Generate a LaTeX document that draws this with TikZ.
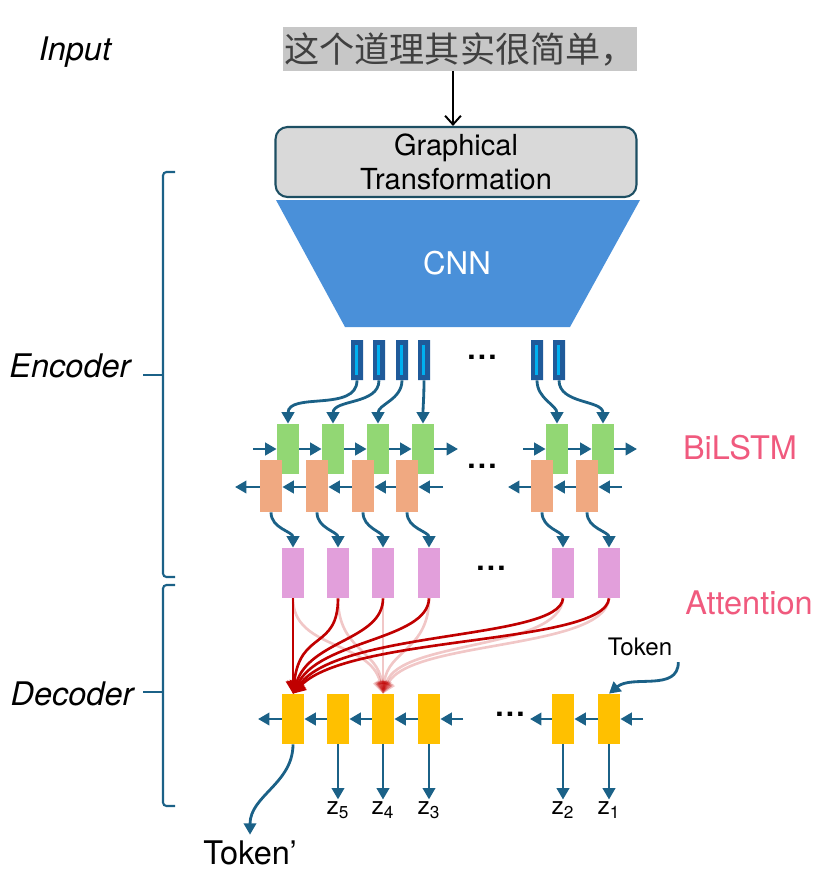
\documentclass[tikz,border=0pt]{standalone}
\usepackage{fontspec}
\setmainfont{TeX Gyre Heros}
\newfontfamily\cjk{Noto Sans CJK SC}
\usetikzlibrary{arrows.meta, shapes.misc, positioning, calc}
\definecolor{arrowteal}{HTML}{1B6187}
\definecolor{cnnblue}{HTML}{4A90D9}
\definecolor{featdark}{HTML}{1F5A9A}
\definecolor{featcyan}{HTML}{00B0F0}
\definecolor{fwdgreen}{HTML}{92D774}
\definecolor{bwdorange}{HTML}{F0A981}
\definecolor{attpink}{HTML}{E29FDB}
\definecolor{decyellow}{HTML}{FFC000}
\definecolor{labelpink}{HTML}{F05A7E}
\definecolor{attred}{HTML}{C00000}
\definecolor{gtgrey}{HTML}{D9D9D9}
\definecolor{gtborder}{HTML}{1D4F63}
\newcommand{\hdots}{.\hspace{1.3pt}.\hspace{1.3pt}.}
\tikzstyle{inputbox} = [fill=black!22, text=black!75, inner xsep=1pt, inner ysep=3pt, font=\fontsize{20}{22}\selectfont]
\tikzstyle{gtbox} = [draw=gtborder, line width=1.2pt, fill=gtgrey, rounded corners=2.4mm, minimum width=7.22cm, minimum height=1.4cm, align=center, font=\fontsize{16.5}{19}\selectfont]
\tikzstyle{featbar} = [chamfered rectangle, chamfered rectangle corners={north west,south east}, chamfered rectangle xsep=1.4pt, chamfered rectangle ysep=2.5pt, fill=featdark, minimum width=2.4mm, minimum height=8mm, inner sep=0, path picture={\fill[featcyan] ([xshift=2pt,yshift=-3pt]path picture bounding box.north west) rectangle ([xshift=-2.8pt,yshift=3pt]path picture bounding box.south east);}]
\tikzstyle{fwdbox} = [fill=fwdgreen, minimum width=4.4mm, minimum height=10mm, inner sep=0]
\tikzstyle{bwdbox} = [fill=bwdorange, minimum width=4.4mm, minimum height=10.4mm, inner sep=0]
\tikzstyle{attbox} = [fill=attpink, minimum width=4.4mm, minimum height=10mm, inner sep=0]
\tikzstyle{decbox} = [fill=decyellow, minimum width=4.4mm, minimum height=10mm, inner sep=0]
\tikzstyle{sidelabel} = [font=\itshape\fontsize{18.5}{22}\selectfont]
\tikzstyle{pinklabel} = [text=labelpink, font=\fontsize{18.5}{22}\selectfont]
\tikzstyle{dots} = [font=\bfseries\fontsize{17}{20}\selectfont]
\tikzstyle{zlabel} = [inner sep=1pt, font=\fontsize{14}{16}\selectfont]
\tikzstyle{arrow} = [line width=1.6pt, arrowteal, -{Triangle[length=6.5pt, width=7pt]}]
\tikzstyle{thinarrow} = [line width=1.1pt, black, -{Straight Barb[length=5pt, width=9pt]}]
\tikzstyle{attarrow} = [line width=1.5pt, attred, -{Triangle[length=7pt, width=8pt]}]
\tikzstyle{weakarrow} = [attarrow, opacity=0.22]
\tikzstyle{brace} = [line width=1.2pt, arrowteal, rounded corners=2pt]

\begin{document}
\begin{tikzpicture}[x=0.02cm, y=-0.02cm]
    \useasboundingbox (0,0) rectangle (828,890);

    % input and front end
    \node[sidelabel] (input) at (75,52) {Input};
    \node[inputbox] (sentence) at (460,49) {\cjk 这个道理其实很简单，};
    \node[gtbox] (graphical) at (456,162) {Graphical\\Transformation};
    \draw[thinarrow] (sentence.south -| 453,0) -- (graphical.north -| 453,0);
    \fill[cnnblue] (276,200) -- (640,200) -- (570,327) -- (345,327) -- cycle;
    \node[text=white, font=\fontsize{17.8}{20}\selectfont] (cnn) at (457,263) {CNN};

    % feature columns
    \foreach \x [count=\i] in {357,379,402,424,537,559}
        \node[featbar] (f\i) at (\x,360) {};
    \node[dots] (fdots) at (482,357) {\hdots};

    % BiLSTM
    \foreach \x [count=\i] in {288,333,378,423,557,603}
        \node[fwdbox] (g\i) at (\x,449) {};
    \foreach \x [count=\i] in {271,317,363,407,542,587}
        \node[bwdbox] (o\i) at (\x,486) {};
    \node[dots] (ldots) at (482,466) {\hdots};
    \node[pinklabel] (bilstm) at (740,448) {BiLSTM};

    \foreach \i in {1,...,6}
        \draw[arrow] (f\i.south) to[out=-90, in=90] (g\i.north);

    \coordinate (gin) at (253,449);
    \coordinate (gmid) at (458,449);
    \coordinate (gback) at (523,449);
    \coordinate (gout) at (637,449);
    \draw[arrow] (gin) -- (g1);
    \draw[arrow] (g1) -- (g2);
    \draw[arrow] (g2) -- (g3);
    \draw[arrow] (g3) -- (g4);
    \draw[arrow] (g4) -- (gmid);
    \draw[arrow] (gback) -- (g5);
    \draw[arrow] (g5) -- (g6);
    \draw[arrow] (g6) -- (gout);

    \coordinate (oout) at (235,487);
    \coordinate (omid) at (443,487);
    \coordinate (oback) at (508,487);
    \coordinate (oin) at (622,487);
    \draw[arrow] (o1.west |- oout) -- (oout);
    \draw[arrow] (o2.west |- oout) -- (o1.east |- oout);
    \draw[arrow] (o3.west |- oout) -- (o2.east |- oout);
    \draw[arrow] (o4.west |- oout) -- (o3.east |- oout);
    \draw[arrow] (omid) -- (o4.east |- omid);
    \draw[arrow] (o5.west |- oback) -- (oback);
    \draw[arrow] (o6.west |- oback) -- (o5.east |- oback);
    \draw[arrow] (oin) -- (o6.east |- oin);

    % attention inputs
    \foreach \x [count=\i] in {293,338,383,429,563,609}
        \node[attbox] (a\i) at (\x,573) {};
    \node[dots] (adots) at (491,568) {\hdots};
    \node[pinklabel] (attention) at (749,603) {Attention};
    \foreach \i in {1,...,6}
        \draw[arrow] (o\i.south) to[out=-90, in=90] (a\i.north);

    % decoder
    \foreach \x [count=\i] in {293,338,383,429,563,609}
        \node[decbox] (d\i) at (\x,719) {};
    \node[dots] (ddots) at (510,714) {\hdots};

    \draw[weakarrow] (a1.south) .. controls (293,650) and (370,640) .. (d3.north);
    \draw[weakarrow] (a2.south) .. controls (338,650) and (378,650) .. (d3.north);
    \draw[weakarrow] (a3.south) -- (d3.north);
    \draw[weakarrow] (a4.south) .. controls (429,650) and (388,650) .. (d3.north);
    \draw[weakarrow] (a5.south) .. controls (560,650) and (400,640) .. (d3.north);
    \draw[weakarrow] (a6.south) .. controls (605,650) and (410,640) .. (d3.north);

    \draw[attarrow] (a1.south) -- (d1.north);
    \draw[attarrow] (a2.south) .. controls (338,650) and (300,630) .. (d1.north);
    \draw[attarrow] (a3.south) .. controls (383,640) and (310,640) .. (d1.north);
    \draw[attarrow] (a4.south) .. controls (428,640) and (320,640) .. (d1.north);
    \draw[attarrow] (a5.south) .. controls (560,640) and (340,630) .. (d1.north);
    \draw[attarrow] (a6.south) .. controls (605,645) and (350,635) .. (d1.north);

    \coordinate (dout) at (258,719);
    \coordinate (dmid) at (463,719);
    \coordinate (dback) at (530,719);
    \coordinate (din) at (643,719);
    \draw[arrow] (d1) -- (dout);
    \draw[arrow] (d2) -- (d1);
    \draw[arrow] (d3) -- (d2);
    \draw[arrow] (d4) -- (d3);
    \draw[arrow] (dmid) -- (d4);
    \draw[arrow] (d5) -- (dback);
    \draw[arrow] (d6) -- (d5);
    \draw[arrow] (din) -- (d6);

    \node[font=\fontsize{13.7}{16}\selectfont] (token) at (640,647) {Token};
    \draw[arrow] (token.south east) to[out=-90, in=40] (d6.north);

    \foreach \x/\k [count=\i from 2] in {338/5,383/4,429/3,563/2,609/1} {
        \node[zlabel] (z\k) at (\x,810) {z\textsubscript{\k}};
        \draw[arrow] (d\i.south) -- (z\k.north);
    }
    \node[font=\fontsize{18.5}{22}\selectfont] (tokenout) at (250,853) {Token’};
    \draw[arrow] (d1.south) to[out=-90, in=90] (tokenout.north);

    % encoder / decoder braces
    \node[sidelabel] (encoder) at (70,366) {Encoder};
    \node[sidelabel] (decoder) at (72,694) {Decoder};
    \draw[brace] (175,172) -- (163,172) -- (163,577) -- (175,577);
    \draw[brace] (163,375) -- (143,375);
    \draw[brace] (175,585) -- (163,585) -- (163,806) -- (175,806);
    \draw[brace] (163,692) -- (143,692);
\end{tikzpicture}
\end{document}
